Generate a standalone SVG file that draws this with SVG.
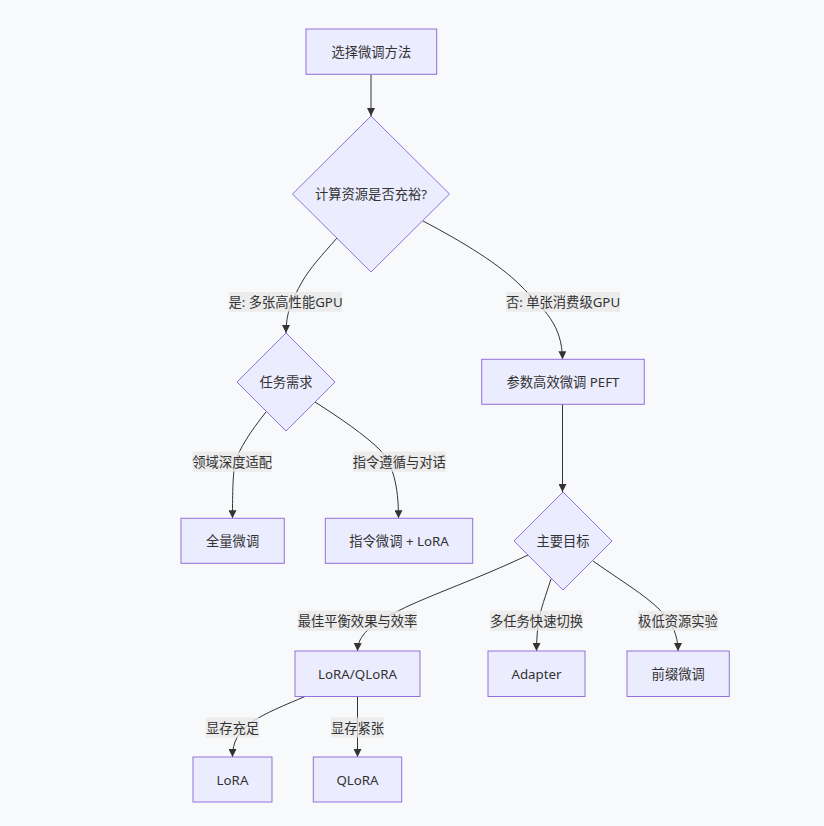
<svg xmlns="http://www.w3.org/2000/svg" width="824" height="826" viewBox="0 0 824 826">
<defs>
<style>
.node rect, .node polygon { fill: #ECECFF; stroke: #9370DB; stroke-width: 1; }
.node text { font-family: "Noto Sans", "Noto Sans CJK SC", sans-serif; font-size: 13.3px; fill: #333333; text-anchor: middle; dominant-baseline: central; }
.edges path { fill: none; stroke: #333333; stroke-width: 1; marker-end: url(#arrow); }
.elabel rect { fill: #e8e8e8; opacity: 0.8; }
.elabel text { font-family: "Noto Sans", "Noto Sans CJK SC", sans-serif; font-size: 13.3px; fill: #333333; text-anchor: middle; dominant-baseline: central; }
</style>
<marker id="arrow" viewBox="0 0 10 10" refX="10" refY="5" markerWidth="8" markerHeight="8" markerUnits="userSpaceOnUse" orient="auto">
<path d="M0,0 L10,5 L0,10 z" fill="#333333"/>
</marker>
</defs>
<rect x="0" y="0" width="824" height="826" fill="#f8f9fb"/>

<g class="edges" id="connectors">
<path d="M371,74.3 L371,116"/>
<path d="M337,238 C322,255 310,268 302,282 C292,300 286,312 286,333"/>
<path d="M423,221 C465,243 500,265 520,285 C545,310 562,325 562.5,359.3"/>
<path d="M266,412 C250,432 240,448 235,462 C233,475 232.5,490 232.5,518.3"/>
<path d="M315,402 C340,418 365,435 380,450 C393,465 398.5,485 398.5,518.3"/>
<path d="M562.5,404.3 L562.5,492"/>
<path d="M528,555 C480,578 430,595 400,610 C370,625 358,635 357.5,651"/>
<path d="M551,579 C546,595 540,610 538,625 C537,635 536.5,643 536.5,651"/>
<path d="M593,561 C620,580 645,595 660,610 C672,622 678,635 678,651"/>
<path d="M305,696.5 C285,705 265,713 252,722 C238,732 232.5,742 232.5,757"/>
<path d="M357.5,696.5 L357.5,757"/>
</g>

<g class="elabel" id="label-yes"><rect x="229.3" y="292" width="112.4" height="19.7"/><text x="285.5" y="301.9">是: 多张高性能GPU</text></g>
<g class="elabel" id="label-no"><rect x="506" y="292" width="114" height="19.7"/><text x="563" y="301.9">否: 单张消费级GPU</text></g>
<g class="elabel" id="label-domain"><rect x="192.7" y="451.7" width="79" height="20"/><text x="232.2" y="461.7">领域深度适配</text></g>
<g class="elabel" id="label-instr"><rect x="352.7" y="451.7" width="93.3" height="20"/><text x="399.3" y="461.7">指令遵循与对话</text></g>
<g class="elabel" id="label-best"><rect x="298" y="610.7" width="119" height="20"/><text x="357.5" y="620.7">最佳平衡效果与效率</text></g>
<g class="elabel" id="label-multi"><rect x="490" y="610.7" width="93" height="20"/><text x="536.5" y="620.7">多任务快速切换</text></g>
<g class="elabel" id="label-low"><rect x="638" y="610.7" width="80" height="20"/><text x="678" y="620.7">极低资源实验</text></g>
<g class="elabel" id="label-enough"><rect x="206" y="717.5" width="53" height="20"/><text x="232.5" y="727.5">显存充足</text></g>
<g class="elabel" id="label-tight"><rect x="331" y="717.5" width="53" height="20"/><text x="357.5" y="727.5">显存紧张</text></g>

<g class="node" id="A"><rect x="306" y="29" width="130.7" height="45.3"/><text x="371.3" y="51.7">选择微调方法</text></g>
<g class="node" id="B"><polygon points="371,116 449.5,194 371,272 292.5,194"/><text x="371" y="194">计算资源是否充裕?</text></g>
<g class="node" id="C"><polygon points="286,333 335,382 286,431 237,382"/><text x="286" y="382">任务需求</text></g>
<g class="node" id="D"><rect x="481.7" y="359.3" width="162.6" height="45"/><text x="563" y="381.8">参数高效微调 PEFT</text></g>
<g class="node" id="E"><rect x="181" y="518.3" width="103.3" height="45"/><text x="232.6" y="540.8">全量微调</text></g>
<g class="node" id="F"><rect x="325.3" y="518.3" width="147.4" height="45"/><text x="399" y="540.8">指令微调 + LoRA</text></g>
<g class="node" id="G"><polygon points="563,492 612,541 563,590 514,541"/><text x="563" y="541">主要目标</text></g>
<g class="node" id="H"><rect x="295" y="651" width="125" height="45.5"/><text x="357.5" y="673.7">LoRA/QLoRA</text></g>
<g class="node" id="I"><rect x="488" y="651" width="97" height="45.5"/><text x="536.5" y="673.7">Adapter</text></g>
<g class="node" id="J"><rect x="627" y="651" width="102.3" height="45.5"/><text x="678.2" y="673.7">前缀微调</text></g>
<g class="node" id="K"><rect x="193" y="757" width="79" height="45"/><text x="232.5" y="779.5">LoRA</text></g>
<g class="node" id="L"><rect x="313.3" y="757" width="88.4" height="45"/><text x="357.5" y="779.5">QLoRA</text></g>
</svg>
